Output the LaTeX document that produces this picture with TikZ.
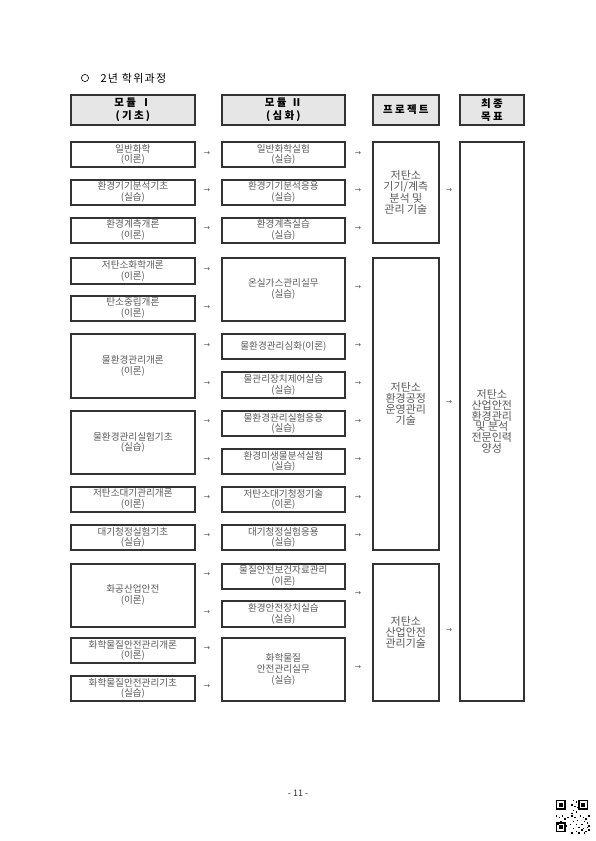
\documentclass[tikz,border=0pt]{standalone}
\usepackage{fontspec}
\setmainfont{Noto Sans CJK KR}
\newfontfamily\dvfont{DejaVu Sans}
\definecolor{txtgray}{HTML}{5A5A5A}
\definecolor{hdrfill}{HTML}{E6E6E6}
\definecolor{edge}{HTML}{333333}
\tikzset{
  box/.style={draw=edge, line width=1.7pt, fill=white, align=center, inner sep=1pt,
    text=txtgray, font=\fontsize{9.6}{10.8}\selectfont},
  tallbox/.style={box, font=\fontsize{11}{10.8}\selectfont},
  hdr/.style={box, fill=hdrfill, text=black, font=\fontsize{10.5}{12.5}\selectfont\bfseries\addfontfeature{LetterSpace=22}},
  arr/.style={text=txtgray, font=\dvfont\fontsize{7.5}{8}\selectfont, inner sep=0pt},
}
\newcommand\mybox[7][box]{\node[#1,minimum width={(#5-#3)*1pt},minimum height={(#6-#4)*1pt},anchor=north west] (#2) at (#3,#4) {#7};}
\begin{document}
\begin{tikzpicture}[x=1pt,y=-1pt]
\useasboundingbox (0,0) rectangle (595,841);
% title
\draw[line width=0.6pt] (85,78) circle (3.6);
\node[anchor=west, font=\fontsize{11}{12}\selectfont\addfontfeature{LetterSpace=12}] (title) at (97,78) {2년 학위과정};
% headers
\mybox[hdr]{h1}{70}{94}{194}{124}{모듈 Ⅰ\\(기초)}
\mybox[hdr]{h2}{221}{94}{344}{124}{모듈 Ⅱ\\(심화)}
\mybox[hdr]{h3}{372}{94}{438}{124}{프로젝트}
\mybox[hdr]{h4}{459}{94}{523}{124}{최종\\목표}
% column 1
\mybox{a1}{70}{141}{194}{166}{일반화학\\(이론)}
\mybox{a2}{70}{179}{194}{204}{환경기기분석기초\\(실습)}
\mybox{a3}{70}{217}{194}{242}{환경계측개론\\(이론)}
\mybox{a4}{70}{257}{194}{283}{저탄소화학개론\\(이론)}
\mybox{a5}{70}{295}{194}{320}{탄소중립개론\\(이론)}
\mybox{a6}{70}{333}{194}{397}{물환경관리개론\\(이론)}
\mybox{a7}{70}{410}{194}{473}{물환경관리실험기초\\(실습)}
\mybox{a8}{70}{486}{194}{511}{저탄소대기관리개론\\(이론)}
\mybox{a9}{70}{524}{194}{549}{대기청정실험기초\\(실습)}
\mybox{a10}{70}{563}{194}{626}{화공산업안전\\(이론)}
\mybox{a11}{70}{637}{194}{662}{화학물질안전관리개론\\(이론)}
\mybox{a12}{70}{675}{194}{700}{화학물질안전관리기초\\(실습)}
% column 2
\mybox{b1}{221}{141}{344}{166}{일반화학실험\\(실습)}
\mybox{b2}{221}{179}{344}{204}{환경기기분석응용\\(실습)}
\mybox{b3}{221}{217}{344}{242}{환경계측실습\\(실습)}
\mybox{b4}{221}{257}{344}{320}{온실가스관리실무\\(실습)}
\mybox{b5}{221}{333}{344}{358}{물환경관리심화(이론)}
\mybox{b6}{221}{371}{344}{397}{물관리장치제어실습\\(실습)}
\mybox{b7}{221}{410}{344}{435}{물환경관리실험응용\\(실습)}
\mybox{b8}{221}{448}{344}{473}{환경미생물분석실험\\(실습)}
\mybox{b9}{221}{486}{344}{511}{저탄소대기청정기술\\(이론)}
\mybox{b10}{221}{524}{344}{549}{대기청정실험응용\\(실습)}
\mybox{b11}{221}{563}{344}{588}{물질안전보건자료관리\\(이론)}
\mybox{b12}{221}{600}{344}{626}{환경안전장치실습\\(실습)}
\mybox{b13}{221}{637}{344}{700}{화학물질\\안전관리실무\\(실습)}
% column 3
\mybox[tallbox]{c1}{372}{141}{438}{242}{저탄소\\기기/계측\\분석 및\\관리 기술}
\mybox[tallbox]{c2}{372}{257}{438}{549}{저탄소\\환경공정\\운영관리\\기술}
\mybox[tallbox]{c3}{372}{563}{438}{700}{저탄소\\산업안전\\관리기술}
% column 4
\mybox[tallbox]{d1}{459}{141}{523}{700}{저탄소\\산업안전\\환경관리\\및 분석\\전문인력\\양성}
% arrows
\foreach \yy [count=\i] in {154,191,229,270,308,346,384,422,460,498,536,575,613,649,687}
  {\node[arr] (p\i) at (207,\yy) {→};}
\foreach \yy [count=\i] in {154,191,229,288,346,384,422,460,498,536,594,668}
  {\node[arr] (q\i) at (358,\yy) {→};}
\foreach \yy [count=\i] in {191,403,631}
  {\node[arr] (r\i) at (449,\yy) {→};}
% page number
\node[font=\fontsize{9}{10}\selectfont, text=black!80] (pg) at (298,793) {- 11 -};
% QR code (approximate)
\begin{scope}[shift={(556,800)}]
  \foreach \ox/\oy in {0/0,22.4/0,0/22.4}{
    \fill[black] (\ox,\oy) rectangle ++(9.8,9.8);
    \fill[white] (\ox+1.4,\oy+1.4) rectangle ++(7,7);
    \fill[black] (\ox+2.8,\oy+2.8) rectangle ++(4.2,4.2);
  }
  \foreach \mx/\my in {12/0,14/1,11/3,13/4,15/5,12/7,14/8,11/9,
                       0/11,2/12,4/11,6/13,8/12,3/15,5/16,1/17,7/18,
                       11/11,13/12,15/14,12/15,10/17,14/17,16/19,18/21,
                       17/11,19/12,21/13,23/11,20/15,22/16,18/17,23/18,
                       12/20,14/22,11/23,16/23,19/20,21/22,23/21,20/23,22/19}
    {\fill[black] (\mx*1.4,\my*1.4) rectangle ++(1.4,1.4);}
\end{scope}
\end{tikzpicture}
\end{document}
